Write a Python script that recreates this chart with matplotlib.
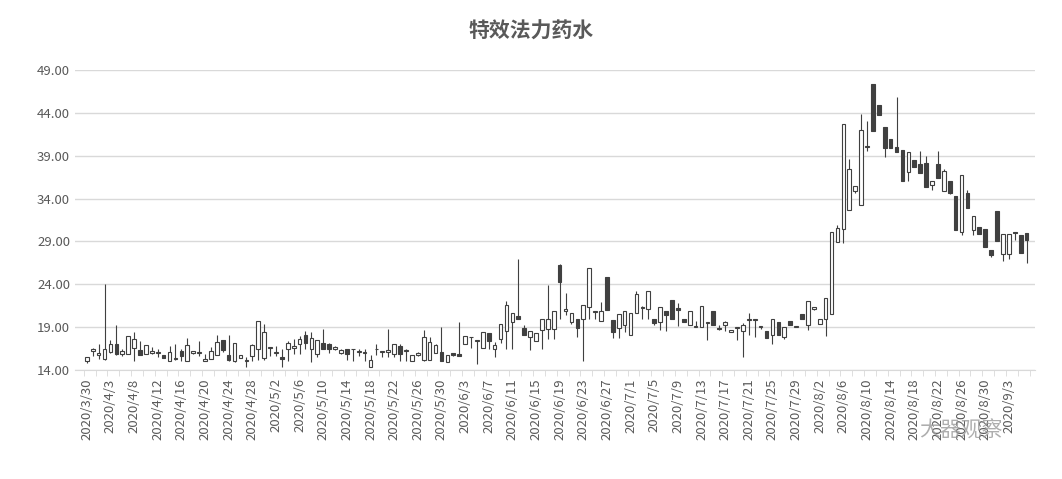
import matplotlib.pyplot as plt
import matplotlib.ticker as mticker
import numpy as np
import datetime as dt

plt.rcParams['font.family'] = ['Noto Sans CJK SC', 'DejaVu Sans']

# date categories: 2020/3/30 .. 2020/9/6, 4/4 not traded
start = dt.date(2020, 3, 30)
dates = [start + dt.timedelta(days=d) for d in range(161)]
dates = [d for d in dates if d != dt.date(2020, 4, 4)]
date_labels = [f"{d.year}/{d.month}/{d.day}" for d in dates]

# open, close, high, low
opens = [15.0, 16.2, 15.7, 15.3, 16.1, 17.0, 15.9, 15.9, 16.6, 16.3,
         15.9, 16.0, 16.0, 15.7, 15.0, 15.3, 16.2, 15.0, 16.0, 16.0,
         15.1, 15.3, 15.8, 17.5, 15.8, 15.0, 15.4, 15.1, 15.6, 16.4,
         15.4, 16.6, 16.0, 15.5, 16.4, 16.6, 17.0, 18.1, 16.5, 15.9,
         17.2, 17.0, 16.4, 16.0, 16.4, 16.5, 16.1, 16.0, 14.4, 16.4,
         16.1, 16.1, 15.9, 16.8, 16.2, 15.0, 15.8, 15.2, 15.2, 16.0,
         16.1, 14.9, 16.0, 15.9, 17.0, 17.8, 17.4, 16.6, 18.3, 16.5,
         17.6, 18.5, 19.6, 20.3, 18.9, 17.9, 17.4, 18.7, 18.8, 18.8,
         26.3, 20.9, 19.6, 20.0, 20.0, 21.3, 20.8, 19.7, 24.9, 19.8,
         18.9, 19.3, 18.1, 20.7, 21.4, 21.1, 20.0, 19.6, 20.9, 22.2,
         21.2, 20.0, 19.3, 19.0, 19.0, 19.5, 20.9, 18.9, 19.3, 18.4,
         18.9, 18.5, 19.8, 19.8, 19.0, 18.6, 18.1, 19.6, 17.9, 19.7,
         19.0, 20.5, 19.3, 21.1, 19.4, 20.0, 20.5, 28.9, 30.4, 32.7,
         34.9, 33.3, 40.0, 47.4, 44.9, 42.3, 41.0, 40.0, 39.7, 37.1,
         38.5, 38.0, 38.2, 35.6, 38.0, 34.9, 36.0, 34.3, 30.1, 34.7,
         30.3, 30.7, 30.4, 28.0, 32.6, 27.5, 27.5, 30.1, 29.8, 30.0]
closes = [15.5, 16.4, 16.0, 16.5, 17.0, 15.9, 16.2, 18.0, 17.6, 15.8,
          16.9, 16.2, 16.1, 15.4, 16.1, 15.4, 15.6, 16.9, 16.2, 16.1,
          15.3, 16.2, 17.3, 16.3, 15.2, 17.2, 15.7, 15.2, 16.9, 19.7,
          18.4, 16.6, 16.1, 15.3, 17.1, 16.8, 17.6, 17.2, 17.7, 17.5,
          16.4, 16.4, 16.7, 16.3, 15.9, 16.4, 16.2, 16.1, 15.2, 16.5,
          16.2, 16.3, 17.0, 15.9, 16.3, 15.8, 16.0, 17.8, 17.3, 16.9,
          15.0, 15.8, 15.7, 15.6, 18.0, 17.9, 17.5, 18.4, 17.4, 16.9,
          19.4, 21.6, 20.6, 19.9, 18.1, 18.5, 18.3, 19.9, 20.0, 20.9,
          24.3, 21.1, 20.6, 18.9, 21.6, 25.9, 20.9, 20.9, 21.0, 18.4,
          20.5, 20.9, 20.7, 22.9, 21.2, 23.2, 19.5, 21.3, 20.4, 20.0,
          21.0, 19.6, 20.9, 19.1, 21.5, 19.6, 19.2, 18.8, 19.6, 18.7,
          19.0, 19.3, 19.9, 19.9, 19.0, 17.7, 20.0, 18.1, 19.0, 19.2,
          19.1, 20.0, 22.1, 21.3, 20.0, 22.4, 30.1, 30.6, 42.7, 37.5,
          35.5, 42.0, 40.1, 41.9, 43.7, 39.9, 39.9, 39.4, 36.0, 39.4,
          37.7, 37.0, 35.3, 36.0, 36.4, 37.2, 34.7, 30.3, 36.8, 32.9,
          32.0, 29.9, 28.4, 27.4, 29.0, 29.9, 29.9, 30.0, 27.7, 29.2]
highs = [15.5, 16.6, 17.0, 24.0, 17.5, 19.3, 16.4, 18.0, 18.4, 17.4,
         16.9, 16.7, 16.4, 15.7, 16.8, 17.0, 16.4, 17.7, 16.2, 17.4,
         15.9, 16.7, 18.1, 17.5, 18.1, 17.2, 15.7, 15.5, 17.0, 19.7,
         19.4, 16.7, 16.8, 16.4, 17.4, 17.6, 18.0, 18.6, 18.4, 17.5,
         18.8, 17.2, 16.8, 16.4, 16.4, 16.5, 16.5, 16.5, 15.7, 17.0,
         16.2, 18.8, 17.0, 17.0, 16.5, 15.8, 16.1, 18.7, 17.8, 17.0,
         19.0, 15.8, 16.0, 19.6, 18.0, 17.9, 17.5, 18.4, 18.3, 17.3,
         19.4, 22.1, 20.6, 26.9, 19.3, 18.5, 18.3, 19.9, 23.9, 20.9,
         26.4, 23.0, 20.6, 20.0, 21.6, 25.9, 20.9, 21.9, 24.9, 19.8,
         20.5, 20.9, 20.7, 23.2, 21.5, 23.2, 20.0, 21.3, 20.9, 22.2,
         21.8, 20.0, 20.9, 19.7, 21.5, 19.6, 20.9, 19.3, 19.7, 18.7,
         19.0, 19.5, 20.7, 19.9, 19.0, 18.6, 20.0, 19.6, 19.0, 19.7,
         19.1, 20.5, 22.1, 21.4, 20.0, 22.4, 30.1, 30.9, 42.7, 38.6,
         35.5, 43.9, 43.1, 47.4, 44.9, 42.3, 41.0, 45.8, 39.7, 39.4,
         38.5, 39.5, 39.0, 36.0, 39.5, 37.5, 36.0, 34.3, 36.8, 35.0,
         32.0, 30.7, 30.4, 28.0, 32.6, 29.9, 29.9, 30.1, 29.8, 30.0]
lows = [14.8, 15.6, 15.3, 15.2, 16.0, 15.8, 15.6, 15.9, 15.0, 15.8,
        15.9, 15.9, 15.5, 15.4, 15.0, 15.2, 15.0, 15.0, 15.9, 15.6,
        15.1, 15.3, 15.8, 16.1, 15.0, 14.9, 15.4, 14.3, 15.0, 15.2,
        15.2, 15.6, 15.6, 14.4, 15.0, 15.9, 15.9, 16.5, 14.9, 15.5,
        16.4, 16.0, 16.3, 15.9, 15.2, 15.1, 15.6, 15.0, 14.4, 15.7,
        15.5, 15.5, 15.5, 15.0, 15.0, 15.0, 15.6, 15.0, 15.2, 16.0,
        15.0, 14.9, 15.6, 15.6, 17.0, 16.6, 14.7, 16.6, 16.4, 15.5,
        17.2, 16.4, 16.4, 19.9, 18.1, 16.3, 17.4, 16.4, 17.6, 17.6,
        20.0, 20.4, 19.4, 17.8, 15.0, 20.0, 20.0, 19.7, 21.0, 17.7,
        17.7, 18.4, 18.1, 20.7, 20.0, 20.0, 19.3, 18.7, 18.5, 20.0,
        19.1, 19.6, 19.3, 19.0, 19.0, 17.5, 19.2, 18.7, 18.5, 18.4,
        17.5, 15.5, 18.1, 17.8, 18.8, 17.7, 17.0, 18.1, 17.6, 19.2,
        19.0, 20.0, 18.7, 21.0, 19.4, 18.0, 20.5, 28.9, 28.8, 32.7,
        34.6, 33.3, 39.6, 41.9, 43.7, 38.9, 39.9, 39.4, 36.0, 36.0,
        37.7, 37.0, 35.3, 35.0, 36.4, 34.9, 34.5, 30.3, 29.7, 32.9,
        29.8, 29.9, 28.4, 27.2, 29.0, 26.7, 27.0, 29.2, 27.7, 26.5]

fig = plt.figure(figsize=(10.62, 4.79), dpi=100)
ax = fig.add_axes([0.0706, 0.2276, 0.9044, 0.6263])

x = np.arange(len(opens))
o = np.array(opens); c = np.array(closes)
up = c >= o
ax.vlines(x, lows, highs, color='#404040', linewidth=0.8, zorder=2)
bottom = np.minimum(o, c)
height = np.maximum(np.abs(c - o), 0.08)
ax.bar(x, height, bottom=bottom, width=0.62,
       color=np.where(up, 'white', '#404040'), edgecolor='#404040',
       linewidth=0.8, zorder=3)

ax.set_ylim(14, 49)
ax.set_yticks(np.arange(14, 50, 5))
ax.yaxis.set_major_formatter(mticker.FormatStrFormatter('%.2f'))
ax.grid(axis='y', color='#d9d9d9', linewidth=1)
ax.set_axisbelow(True)
ax.set_xlim(-2, 160.5)
ax.set_xticks(x[::4])
ax.set_xticklabels(date_labels[::4], rotation=90)
ax.set_xticks(np.arange(-0.5, len(x), 2), minor=True)
ax.tick_params(axis='x', which='major', length=0, labelsize=9.5, colors='#595959', pad=6)
ax.tick_params(axis='x', which='minor', length=4, color='#d9d9d9')
ax.tick_params(axis='y', length=0, labelsize=9.5, colors='#595959')
for s in ['top', 'right', 'left']:
    ax.spines[s].set_visible(False)
ax.spines['bottom'].set_color('#d9d9d9')

fig.text(0.5, 0.935, '特效法力药水', ha='center', va='center',
         fontsize=15, color='#595959', fontweight='bold')
fig.text(0.905, 0.10, '大器观察', ha='center', va='center',
         fontsize=15, color='#9a9a9a', alpha=0.8)

plt.savefig('out.png', dpi=100)
